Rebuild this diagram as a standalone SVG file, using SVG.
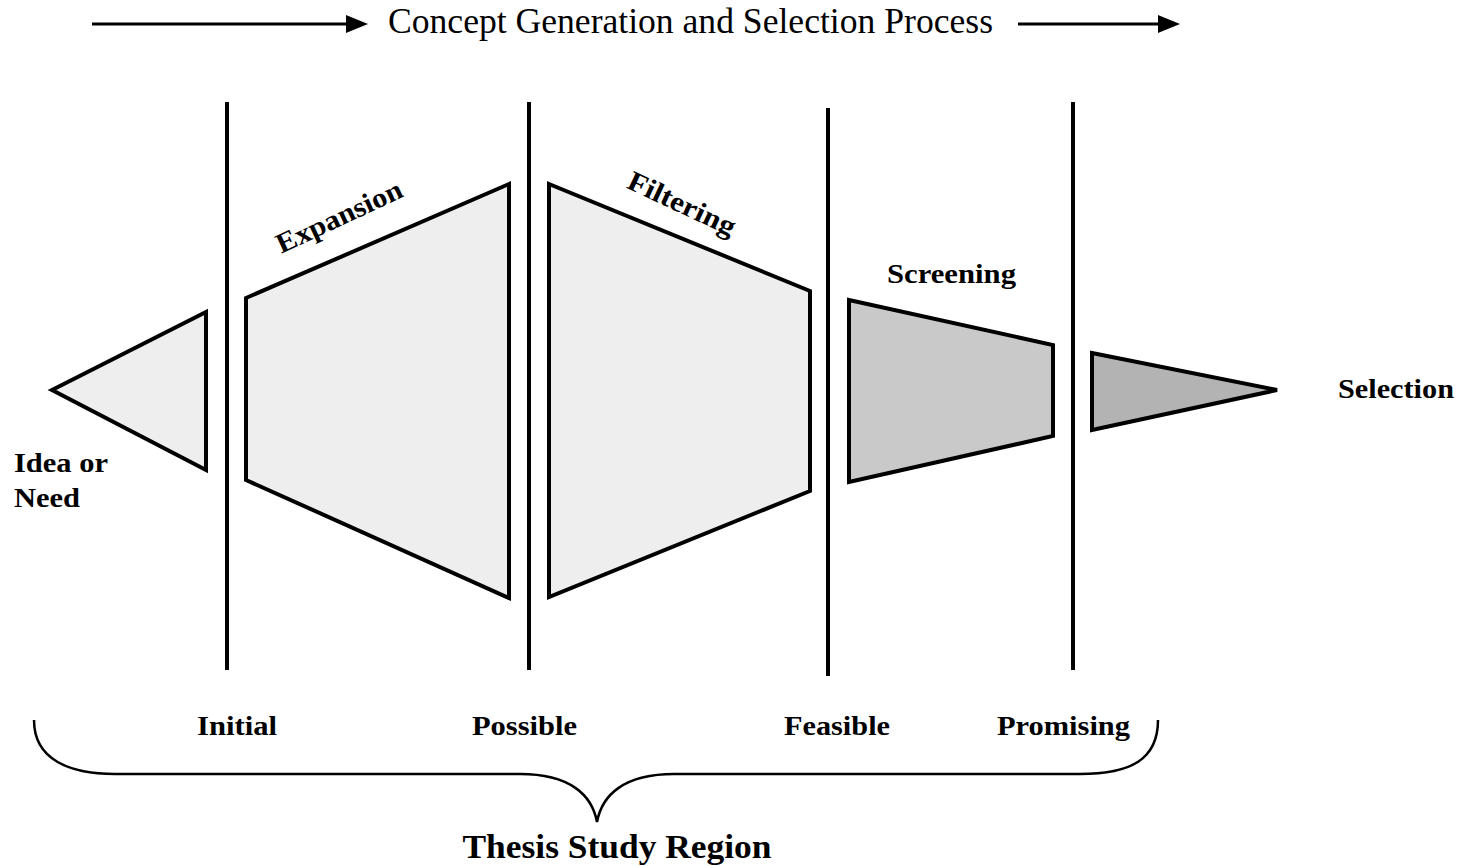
<svg xmlns="http://www.w3.org/2000/svg" width="1464" height="866" viewBox="0 0 1464 866">
<style>
.shape{stroke:#000;stroke-width:4;stroke-linejoin:miter}
.light{fill:#eeeeee}
.mid{fill:#c9c9c9}
.dark{fill:#b3b3b3}
.div{stroke:#000;stroke-width:4}
.lbl{font-family:"Liberation Serif","Times New Roman",serif;font-weight:bold;font-size:28px;fill:#000}
.title{font-family:"Liberation Serif","Times New Roman",serif;font-size:36px;fill:#000}
.arr{stroke:#000;stroke-width:3;fill:none}
</style>
<rect width="1464" height="866" fill="#fff"/>
<g id="header">
<line class="arr" x1="92" y1="24" x2="348" y2="24"/>
<polygon points="346,15 368,24 346,33" fill="#000"/>
<text class="title" x="388" y="33" textLength="605" lengthAdjust="spacingAndGlyphs">Concept Generation and Selection Process</text>
<line class="arr" x1="1018" y1="24" x2="1160" y2="24"/>
<polygon points="1158,15 1180,24 1158,33" fill="#000"/>
</g>
<g id="dividers">
<line class="div" x1="227" y1="102" x2="227" y2="670"/>
<line class="div" x1="529" y1="102" x2="529" y2="670"/>
<line class="div" x1="828" y1="108" x2="828" y2="676"/>
<line class="div" x1="1073" y1="102" x2="1073" y2="670"/>
</g>
<g id="idea">
<polygon class="shape light" points="52,390 206,312 206,470"/>
<text class="lbl" x="14" y="472" textLength="94" lengthAdjust="spacingAndGlyphs">Idea or</text>
<text class="lbl" x="14" y="507" textLength="66" lengthAdjust="spacingAndGlyphs">Need</text>
</g>
<g id="expansion">
<polygon class="shape light" points="246,298 509,184 509,598 246,480"/>
<text class="lbl" x="343" y="225" text-anchor="middle" transform="rotate(-25 343 225)" textLength="136" lengthAdjust="spacingAndGlyphs">Expansion</text>
</g>
<g id="filtering">
<polygon class="shape light" points="549,184 810,291 810,491 549,597"/>
<text class="lbl" x="678" y="212" text-anchor="middle" transform="rotate(25 678 212)" textLength="116" lengthAdjust="spacingAndGlyphs">Filtering</text>
</g>
<g id="screening">
<polygon class="shape mid" points="849,300 1053,345 1053,436 849,482"/>
<text class="lbl" x="887" y="283" textLength="129" lengthAdjust="spacingAndGlyphs">Screening</text>
</g>
<g id="selection">
<polygon class="shape dark" points="1092,353 1277,390 1092,430"/>
<text class="lbl" x="1338" y="398" textLength="116" lengthAdjust="spacingAndGlyphs">Selection</text>
</g>
<g id="stages">
<text class="lbl" x="197" y="735" textLength="80" lengthAdjust="spacingAndGlyphs">Initial</text>
<text class="lbl" x="472" y="735" textLength="105" lengthAdjust="spacingAndGlyphs">Possible</text>
<text class="lbl" x="784" y="735" textLength="106" lengthAdjust="spacingAndGlyphs">Feasible</text>
<text class="lbl" x="997" y="735" textLength="133" lengthAdjust="spacingAndGlyphs">Promising</text>
</g>
<g id="connectors">
<path d="M34,720 C34,760 70,774 115,774 L520,774 C570,774 592,795 597,822 C602,795 624,774 674,774 L1080,774 C1130,774 1158,760 1158,720" fill="none" stroke="#000" stroke-width="2.5"/>
</g>
<g id="region">
<text class="lbl" x="617" y="858" text-anchor="middle" style="font-size:34px" textLength="309" lengthAdjust="spacingAndGlyphs">Thesis Study Region</text>
</g>
</svg>
